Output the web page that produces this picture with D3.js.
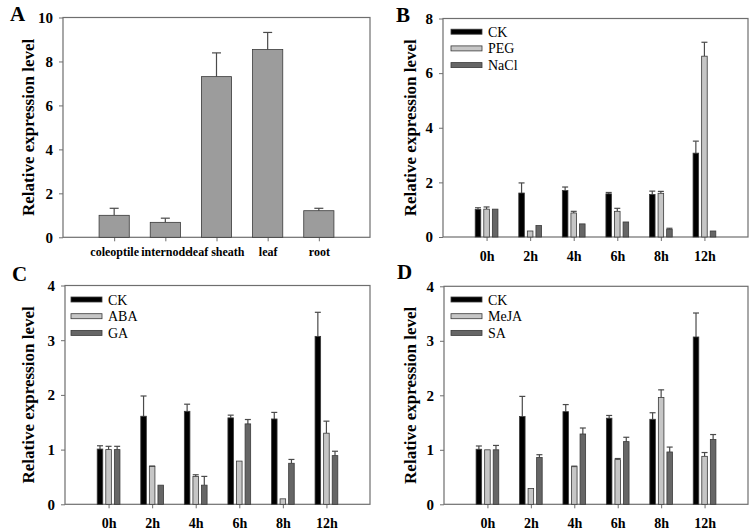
<!DOCTYPE html>
<html lang="en">
<head>
  <meta charset="UTF-8">
  <title>Relative expression level</title>
  <script src="https://d3js.org/d3.v7.min.js"></script>
  <style>
    body { margin: 0; background: #fff; }
    text { font-family: "Liberation Serif", "Times New Roman", serif; }
    .bold { font-weight: bold; }
  </style>
</head>
<body>
  <svg id="chart" width="755" height="530"></svg>

  <script>
    // Panel A: tissues
    const tissues = ["coleoptile", "internode", "leaf sheath", "leaf", "root"];
    const tissueMean = [1.0, 0.68, 7.31, 8.54, 1.21];
    const tissueErr = [0.32, 0.19, 1.08, 0.78, 0.11];

    // Panels B-D: time course
    const hours = ["0h", "2h", "4h", "6h", "8h", "12h"];
    const ckMean = [1.01, 1.61, 1.70, 1.58, 1.56, 3.07];
    const ckErr = [0.06, 0.37, 0.13, 0.05, 0.12, 0.44];
    const pegMean = [1.02, 0.22, 0.88, 0.94, 1.60, 6.62];
    const pegErr = [0.08, 0, 0.06, 0.11, 0.07, 0.51];
    const naclMean = [1.02, 0.42, 0.48, 0.55, 0.28, 0.22];
    const naclErr = [0, 0, 0, 0, 0.04, 0];
    const abaMean = [1.0, 0.69, 0.51, 0.79, 0.10, 1.30];
    const abaErr = [0.06, 0.01, 0.03, 0, 0, 0.22];
    const gaMean = [1.0, 0.35, 0.35, 1.47, 0.75, 0.89];
    const gaErr = [0.06, 0, 0.16, 0.08, 0.07, 0.08];
    const mejaMean = [1.0, 0.29, 0.69, 0.82, 1.96, 0.88];
    const mejaErr = [0, 0, 0.01, 0.02, 0.14, 0.07];
    const saMean = [1.0, 0.86, 1.29, 1.15, 0.96, 1.19];
    const saErr = [0.08, 0.05, 0.11, 0.08, 0.09, 0.09];

    const yTicksA = [0, 2, 4, 6, 8, 10];
    const yTicksB = [0, 2, 4, 6, 8];
    const yTicksCD = [0, 1, 2, 3, 4];

    const colCK = "#000000", colLight = "#c6c6c6", colDark = "#666666";
    const frame = "#6e6e6e";

    const svg = d3.select("#chart");
    svg.append("rect").attr("width", 755).attr("height", 530).attr("fill", "#fff");

    function panel(opt) {
      const g = svg.append("g");
      const x = d3.scaleLinear().domain([0, opt.cats.length + 1]).range([opt.left, opt.right]);
      const y = d3.scaleLinear().domain([0, opt.ymax]).range([opt.bottom, opt.top]);

      // frame
      g.append("rect")
        .attr("x", opt.left).attr("y", opt.top)
        .attr("width", opt.right - opt.left).attr("height", opt.bottom - opt.top)
        .attr("fill", "none").attr("stroke", frame).attr("stroke-width", 1.2);

      // y axis
      const ya = g.append("g").attr("transform", `translate(${opt.left},0)`)
        .call(d3.axisLeft(y).tickValues(opt.yticks).tickSize(4).tickPadding(6).tickFormat(d3.format("d")));
      ya.select(".domain").remove();
      ya.selectAll("line").attr("stroke", frame);
      ya.selectAll("text").attr("class", "bold").attr("font-size", 15).attr("fill", "#000")
        .style("font-family", "'Liberation Serif', serif");

      // x axis
      const xa = g.append("g").attr("transform", `translate(0,${opt.bottom})`)
        .call(d3.axisBottom(x).tickValues(opt.cats.map((c, i) => i + 1)).tickSize(4)
          .tickPadding(opt.xpad).tickFormat((d) => opt.cats[d - 1]));
      xa.select(".domain").remove();
      xa.selectAll("line").attr("stroke", frame);
      xa.selectAll("text").attr("class", "bold").attr("font-size", opt.xfont).attr("fill", "#000")
        .style("font-family", "'Liberation Serif', serif");

      // bars
      const n = opt.series.length;
      opt.series.forEach((s, si) => {
        const off = (si - (n - 1) / 2) * opt.gap;
        s.mean.forEach((v, i) => {
          const cx = x(i + 1 + off);
          const x0 = x(i + 1 + off - opt.bw / 2), x1 = x(i + 1 + off + opt.bw / 2);
          const e = s.err[i];
          if (e > 0) {
            const capW = opt.cap;
            g.append("line").attr("x1", cx).attr("x2", cx)
              .attr("y1", y(v)).attr("y2", y(v + e)).attr("stroke", "#4a4a4a").attr("stroke-width", 1.2);
            g.append("line").attr("x1", cx - capW / 2).attr("x2", cx + capW / 2)
              .attr("y1", y(v + e)).attr("y2", y(v + e)).attr("stroke", "#4a4a4a").attr("stroke-width", 1.2);
          }
          g.append("rect")
            .attr("x", x0).attr("y", y(v))
            .attr("width", x1 - x0).attr("height", y(0) - y(v))
            .attr("fill", s.color).attr("stroke", "#3a3a3a").attr("stroke-width", 0.8);
        });
      });

      // legend
      if (opt.legend) {
        opt.series.forEach((s, si) => {
          const ly = opt.legend.y + si * 16.7;
          g.append("rect").attr("x", opt.legend.x).attr("y", ly - 2.5)
            .attr("width", 31).attr("height", 5)
            .attr("fill", s.color).attr("stroke", "#3a3a3a").attr("stroke-width", 0.8);
          g.append("text").attr("x", opt.legend.x + 37).attr("y", ly + 5)
            .attr("font-size", 14).text(s.name);
        });
      }

      // y title
      g.append("text").attr("class", "bold").attr("font-size", 17)
        .attr("text-anchor", "middle")
        .attr("transform", `translate(${opt.titleX},${(opt.top + opt.bottom) / 2}) rotate(-90)`)
        .attr("dy", "0.35em")
        .text("Relative expression level");

      // panel letter
      g.append("text").attr("class", "bold").attr("font-size", 21)
        .attr("x", opt.letterX).attr("y", opt.letterY).text(opt.letter);
    }

    panel({
      letter: "A", letterX: 10, letterY: 21,
      left: 63, right: 370, top: 17.5, bottom: 237.3, titleX: 28,
      ymax: 10, yticks: yTicksA, cats: tissues, xpad: 6, xfont: 12,
      series: [{ name: "", mean: tissueMean, err: tissueErr, color: "#9c9c9c" }],
      bw: 0.59, gap: 0, cap: 9
    });

    panel({
      letter: "B", letterX: 396, letterY: 21.5,
      left: 443, right: 748, top: 18.5, bottom: 237, titleX: 410,
      ymax: 8, yticks: yTicksB, cats: hours, xpad: 10, xfont: 14,
      series: [
        { name: "CK", mean: ckMean, err: ckErr, color: colCK },
        { name: "PEG", mean: pegMean, err: pegErr, color: colLight },
        { name: "NaCl", mean: naclMean, err: naclErr, color: colDark }
      ],
      bw: 0.128, gap: 0.197, cap: 6,
      legend: { x: 451, y: 31.7 }
    });

    panel({
      letter: "C", letterX: 12, letterY: 280.5,
      left: 65, right: 370, top: 285.5, bottom: 504.3, titleX: 28,
      ymax: 4, yticks: yTicksCD, cats: hours, xpad: 10, xfont: 14,
      series: [
        { name: "CK", mean: ckMean, err: ckErr, color: colCK },
        { name: "ABA", mean: abaMean, err: abaErr, color: colLight },
        { name: "GA", mean: gaMean, err: gaErr, color: colDark }
      ],
      bw: 0.128, gap: 0.197, cap: 6,
      legend: { x: 71, y: 299.5 }
    });

    panel({
      letter: "D", letterX: 397, letterY: 278.5,
      left: 444, right: 748, top: 286.3, bottom: 504.3, titleX: 410.5,
      ymax: 4, yticks: yTicksCD, cats: hours, xpad: 10, xfont: 14,
      series: [
        { name: "CK", mean: ckMean, err: ckErr, color: colCK },
        { name: "MeJA", mean: mejaMean, err: mejaErr, color: colLight },
        { name: "SA", mean: saMean, err: saErr, color: colDark }
      ],
      bw: 0.128, gap: 0.197, cap: 6,
      legend: { x: 451, y: 299.5 }
    });
  </script>
</body>
</html>
